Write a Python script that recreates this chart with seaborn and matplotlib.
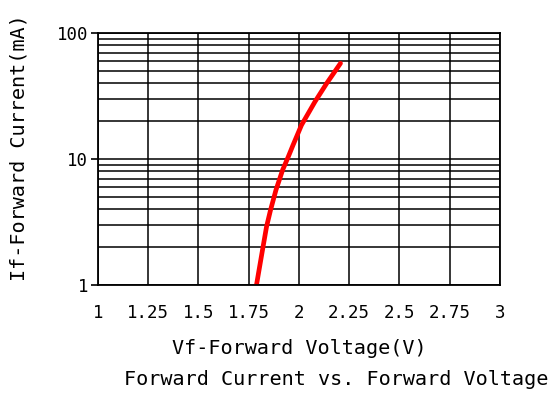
import pandas as pd
import matplotlib.pyplot as plt
import seaborn as sns
from matplotlib.ticker import FixedLocator, NullFormatter

# Données
vf_volts = [1.789, 1.819, 1.839, 1.859, 1.886, 1.919, 1.947, 1.970, 2.013, 2.08, 2.138, 2.207]
if_ma = [1.0, 1.9, 2.9, 3.94, 5.68, 8.18, 10.4, 12.8, 18.6, 28.5, 39.8, 57.5]

x_ticks = [1, 1.25, 1.5, 1.75, 2, 2.25, 2.5, 2.75, 3]
x_tick_labels = ["1", "1.25", "1.5", "1.75", "2", "2.25", "2.5", "2.75", "3"]
y_ticks = [1, 10, 100]
y_tick_labels = ["1", "10", "100"]

df = pd.DataFrame({"Vf": vf_volts, "If": if_ma})

sns.set_style("white")
plt.rcParams["font.family"] = ["DejaVu Sans Mono"]
plt.rcParams["text.color"] = "black"
plt.rcParams["axes.labelcolor"] = "black"
plt.rcParams["xtick.color"] = "black"
plt.rcParams["ytick.color"] = "black"

fig = plt.figure(figsize=(5.53, 4.0), dpi=100)
ax = fig.add_axes([0.177, 0.2875, 0.727, 0.63])

ax.set_yscale("log")
ax.set_xlim(1, 3)
ax.set_ylim(1, 100)

# Grille
minor_y = [m * 10 ** d for d in range(0, 2) for m in range(2, 10)]
ax.yaxis.set_minor_locator(FixedLocator(minor_y))
ax.yaxis.set_minor_formatter(NullFormatter())
ax.set_xticks(x_ticks)
ax.set_xticklabels(x_tick_labels)
ax.set_yticks(y_ticks)
ax.set_yticklabels(y_tick_labels)
ax.grid(True, which="both", color="black", linewidth=1.1)
ax.set_axisbelow(True)

sns.lineplot(data=df, x="Vf", y="If", ax=ax, color="#ff0000", linewidth=3.4)

for s in ax.spines.values():
    s.set_color("black")
    s.set_linewidth(1.3)

ax.tick_params(axis="x", which="both", length=0, pad=14, labelsize=12.5)
ax.tick_params(axis="y", which="major", length=5, width=1.2, pad=2, labelsize=12.5, left=True)
ax.tick_params(axis="y", which="minor", length=0)

ax.set_xlabel("Vf-Forward Voltage(V)", fontsize=14.5, labelpad=12)
ax.set_ylabel("If-Forward Current(mA)", fontsize=14.5)
ax.yaxis.set_label_coords(-0.172, 0.545)
fig.text(0.608, 0.038, "Forward Current vs. Forward Voltage", ha="center", fontsize=14.5)

fig.savefig("out.png", dpi=100)
